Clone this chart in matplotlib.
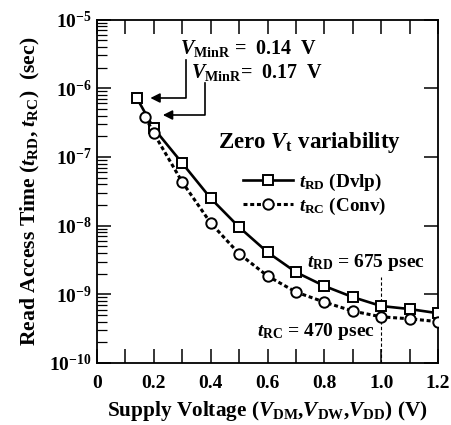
import matplotlib
matplotlib.use("Agg")
import matplotlib.pyplot as plt
from matplotlib.ticker import FixedLocator, FuncFormatter, LogLocator, NullFormatter
import numpy as np

# ---- data ----
v_rd = [0.14, 0.2, 0.3, 0.4, 0.5, 0.6, 0.7, 0.8, 0.9, 1.0, 1.1, 1.2]
t_rd = [7.2e-7, 2.6e-7, 8.1e-8, 2.5e-8, 9.5e-9, 4.1e-9, 2.1e-9, 1.32e-9, 9.1e-10, 6.75e-10, 6.1e-10, 5.3e-10]
v_rc = [0.17, 0.2, 0.3, 0.4, 0.5, 0.6, 0.7, 0.8, 0.9, 1.0, 1.1, 1.2]
t_rc = [3.8e-7, 2.2e-7, 4.3e-8, 1.09e-8, 3.9e-9, 1.85e-9, 1.08e-9, 7.7e-10, 5.7e-10, 4.7e-10, 4.4e-10, 4.0e-10]
x_ticklabels = ["0", "0.2", "0.4", "0.6", "0.8", "1.0", "1.2"]
x_ticks = [0, 0.2, 0.4, 0.6, 0.8, 1.0, 1.2]
y_exponents = [-10, -9, -8, -7, -6, -5]

plt.rcParams['font.family'] = ['Liberation Serif', 'DejaVu Serif']
plt.rcParams['font.weight'] = 'bold'
plt.rcParams['axes.labelweight'] = 'bold'
plt.rcParams['mathtext.fontset'] = 'custom'
plt.rcParams['mathtext.rm'] = 'Liberation Serif:bold'
plt.rcParams['mathtext.it'] = 'Liberation Serif:bold:italic'
plt.rcParams['mathtext.bf'] = 'Liberation Serif:bold'

fig = plt.figure(figsize=(4.52, 4.25), dpi=100)
ax = fig.add_axes([97/452, 1-363/425, (438-97)/452, (363-19.5)/425])

ax.plot(v_rd, t_rd, '-', color='black', lw=1.9, marker='s', ms=7.5,
        mfc='white', mec='black', mew=1.4, label=r'$t_{\mathrm{RD}}$ (Dvlp)', zorder=3)
ax.plot(v_rc, t_rc, color='black', lw=2.2, ls=(0, (1.3, 0.9)), marker='o', ms=7.5,
        mfc='white', mec='black', mew=1.4, label=r'$t_{\mathrm{RC}}$ (Conv)', zorder=3)

ax.set_yscale('log')
ax.set_xlim(0, 1.2)
ax.set_ylim(1e-10, 1e-5)

ax.xaxis.set_major_locator(FixedLocator(x_ticks))
ax.set_xticklabels(x_ticklabels)
ax.xaxis.set_minor_locator(FixedLocator([0.1, 0.3, 0.5, 0.7, 0.9, 1.1]))
ax.yaxis.set_major_locator(FixedLocator([10.0**e for e in y_exponents]))
ax.yaxis.set_major_formatter(FuncFormatter(lambda y, p: r'$\mathrm{10^{%d}}$' % int(round(np.log10(y)))))
ax.yaxis.set_minor_locator(LogLocator(base=10, subs=np.arange(2, 10)))
ax.yaxis.set_minor_formatter(NullFormatter())

ax.tick_params(axis='x', which='both', direction='in', length=10, width=1.1, top=True,
               labelsize=14, pad=9)
ax.tick_params(axis='y', which='major', direction='in', length=10, width=1.1, right=True,
               labelsize=14, pad=4)
ax.tick_params(axis='y', which='minor', direction='in', length=7, width=0.9, right=False)
for s in ax.spines.values():
    s.set_linewidth(1.3)

ax.set_xlabel(r'Supply Voltage ($V_{\mathrm{DM}}$,$V_{\mathrm{DW}}$,$V_{\mathrm{DD}}$) (V)',
              fontsize=15.3, labelpad=5, fontweight='bold')
ax.set_ylabel(r'Read Access Time ($t_{\mathrm{RD}}$, $t_{\mathrm{RC}}$)  (sec)',
              fontsize=15.6, labelpad=5, fontweight='bold')

# annotations
ax.text(0.292, 3.8e-6, r'$V_{\mathrm{MinR}}$ =  0.14  V', fontsize=14.5, ha='left', va='center')
ax.text(0.331, 1.7e-6, r'$V_{\mathrm{MinR}}$=  0.17  V', fontsize=14.5, ha='left', va='center')
ax.plot([0.313, 0.313, 0.2], [2.57e-6, 7.2e-7, 7.2e-7], color='black', lw=1.2)
ax.annotate('', xy=(0.178, 7.2e-7), xytext=(0.22, 7.2e-7),
            arrowprops=dict(arrowstyle='-|>', color='black', lw=1.2, mutation_scale=14))
ax.plot([0.38, 0.38, 0.25], [1.19e-6, 4.07e-7, 4.07e-7], color='black', lw=1.2)
ax.annotate('', xy=(0.222, 4.07e-7), xytext=(0.27, 4.07e-7),
            arrowprops=dict(arrowstyle='-|>', color='black', lw=1.2, mutation_scale=14))

ax.text(0.426, 1.6e-7, r'Zero $V_{\mathrm{t}}$ variability', fontsize=16.5, ha='left', va='center')

ax.legend(loc='upper left', bbox_to_anchor=(0.39, 0.595), frameon=False, fontsize=13.8,
          handlelength=2.6, handletextpad=0.3, labelspacing=0.15, borderpad=0.2)

ax.plot([1.0, 1.0], [1e-10, 1.79e-9], color='black', lw=0.8, ls=(0, (3, 2)))
ax.text(1.154, 2.86e-9, r'$t_{\mathrm{RD}}$ = 675 psec', fontsize=14, ha='right', va='center')
ax.text(0.978, 2.9e-10, r'$t_{\mathrm{RC}}$ = 470 psec', fontsize=14, ha='right', va='center')

fig.savefig('out.png', dpi=100)
